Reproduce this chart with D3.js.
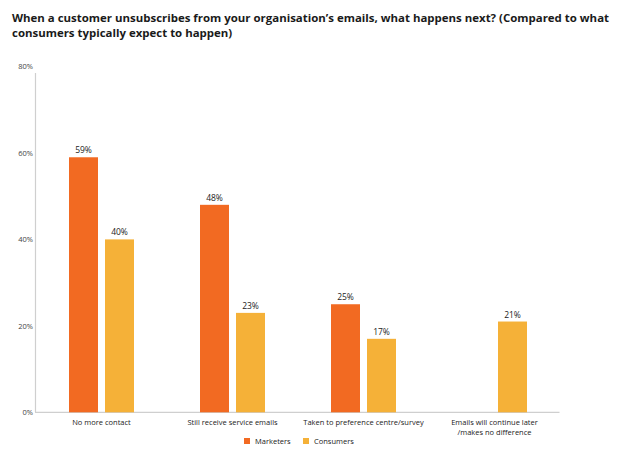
<!DOCTYPE html>
<html><head><meta charset="utf-8">
<script src="https://cdn.jsdelivr.net/npm/d3@7"></script>
<style>body{margin:0;background:#fff}svg{display:block}text{font-family:"Open Sans","Noto Sans",sans-serif}</style>
</head><body>
<script>
const titleLines = ["When a customer unsubscribes from your organisation\u2019s emails, what happens next? (Compared to what",
                    "consumers typically expect to happen)"];
const categories = [["No more contact"], ["Still receive service emails"], ["Taken to preference centre/survey"], ["Emails will continue later", "/makes no difference"]];
const seriesNames = ["Marketers", "Consumers"];
const marketers = [59, 48, 25, null];
const consumers = [40, 23, 17, 21];
const yTicks = [0, 20, 40, 60, 80];
const colors = ["#F26A22", "#F5B138"];

const W = 640, H = 462;
const svg = d3.select("body").append("svg").attr("width", W).attr("height", H);

// title: size the font so line 1 spans the reference width
const tt = svg.append("text").attr("font-family", "Lato, sans-serif").attr("font-weight", "bold").attr("font-size", 14).text(titleLines[0]);
const natural = tt.node().getComputedTextLength();
tt.remove();
const fs = Math.min(14.5, 14 * 598 / natural);
const tl = [[12, 22], [12, 37]];
titleLines.forEach((t, i) => {
  svg.append("text").attr("x", tl[i][0]).attr("y", tl[i][1])
    .attr("font-family", "Lato, sans-serif")
    .attr("font-size", fs).attr("font-weight", "bold").attr("fill", "#1a1a1a").text(t);
});

const y = d3.scaleLinear().domain([0, 80]).range([412.3, 66.5]);
const x = d3.scaleBand().domain(d3.range(categories.length)).range([36, 560]);
const xs = d3.scaleBand().domain(seriesNames).range([33, 98]).paddingInner(2 - 65 / 36);

// y axis
const yAxis = d3.axisLeft(y).tickValues(yTicks).tickSize(0).tickPadding(0).tickFormat(d => d + "%");
const ga = svg.append("g").attr("transform", "translate(33,0)").call(yAxis);
ga.select(".domain").remove();
ga.selectAll("text").attr("font-size", 7.5).attr("fill", "#444").attr("font-family", "'Open Sans',sans-serif");

svg.append("line").attr("x1", 35.5).attr("x2", 35.5).attr("y1", 73).attr("y2", y(0)).attr("stroke", "#cfcfcf").attr("stroke-width", 1.2);
svg.append("line").attr("x1", 35).attr("x2", 559.5).attr("y1", y(0)).attr("y2", y(0)).attr("stroke", "#cfcfcf").attr("stroke-width", 1.2);

const data = [marketers, consumers];
data.forEach((vals, si) => {
  vals.forEach((v, ci) => {
    if (v == null) return;
    const bx = x(ci) + xs(seriesNames[si]);
    svg.append("rect").attr("x", bx).attr("y", y(v)).attr("width", xs.bandwidth())
      .attr("height", y(0) - y(v)).attr("fill", colors[si]);
    svg.append("text").attr("x", bx + xs.bandwidth() / 2).attr("y", y(v) - 4)
      .attr("text-anchor", "middle").attr("font-size", 8.5).attr("fill", "#222").text(v + "%");
  });
});

// category labels
categories.forEach((lines, ci) => {
  lines.forEach((t, li) => {
    svg.append("text").attr("x", x(ci) + x.bandwidth() / 2).attr("y", 425 + li * 9.5)
      .attr("text-anchor", "middle").attr("font-size", 7.5).attr("fill", "#222").text(t);
  });
});

// legend
const lg = [[244, 255], [303, 314]];
seriesNames.forEach((s, i) => {
  svg.append("rect").attr("x", lg[i][0]).attr("y", 438).attr("width", 6).attr("height", 6).attr("fill", colors[i]);
  svg.append("text").attr("x", lg[i][1]).attr("y", 444).attr("font-size", 7.5).attr("fill", "#222").text(s);
});
</script>
</body></html>
